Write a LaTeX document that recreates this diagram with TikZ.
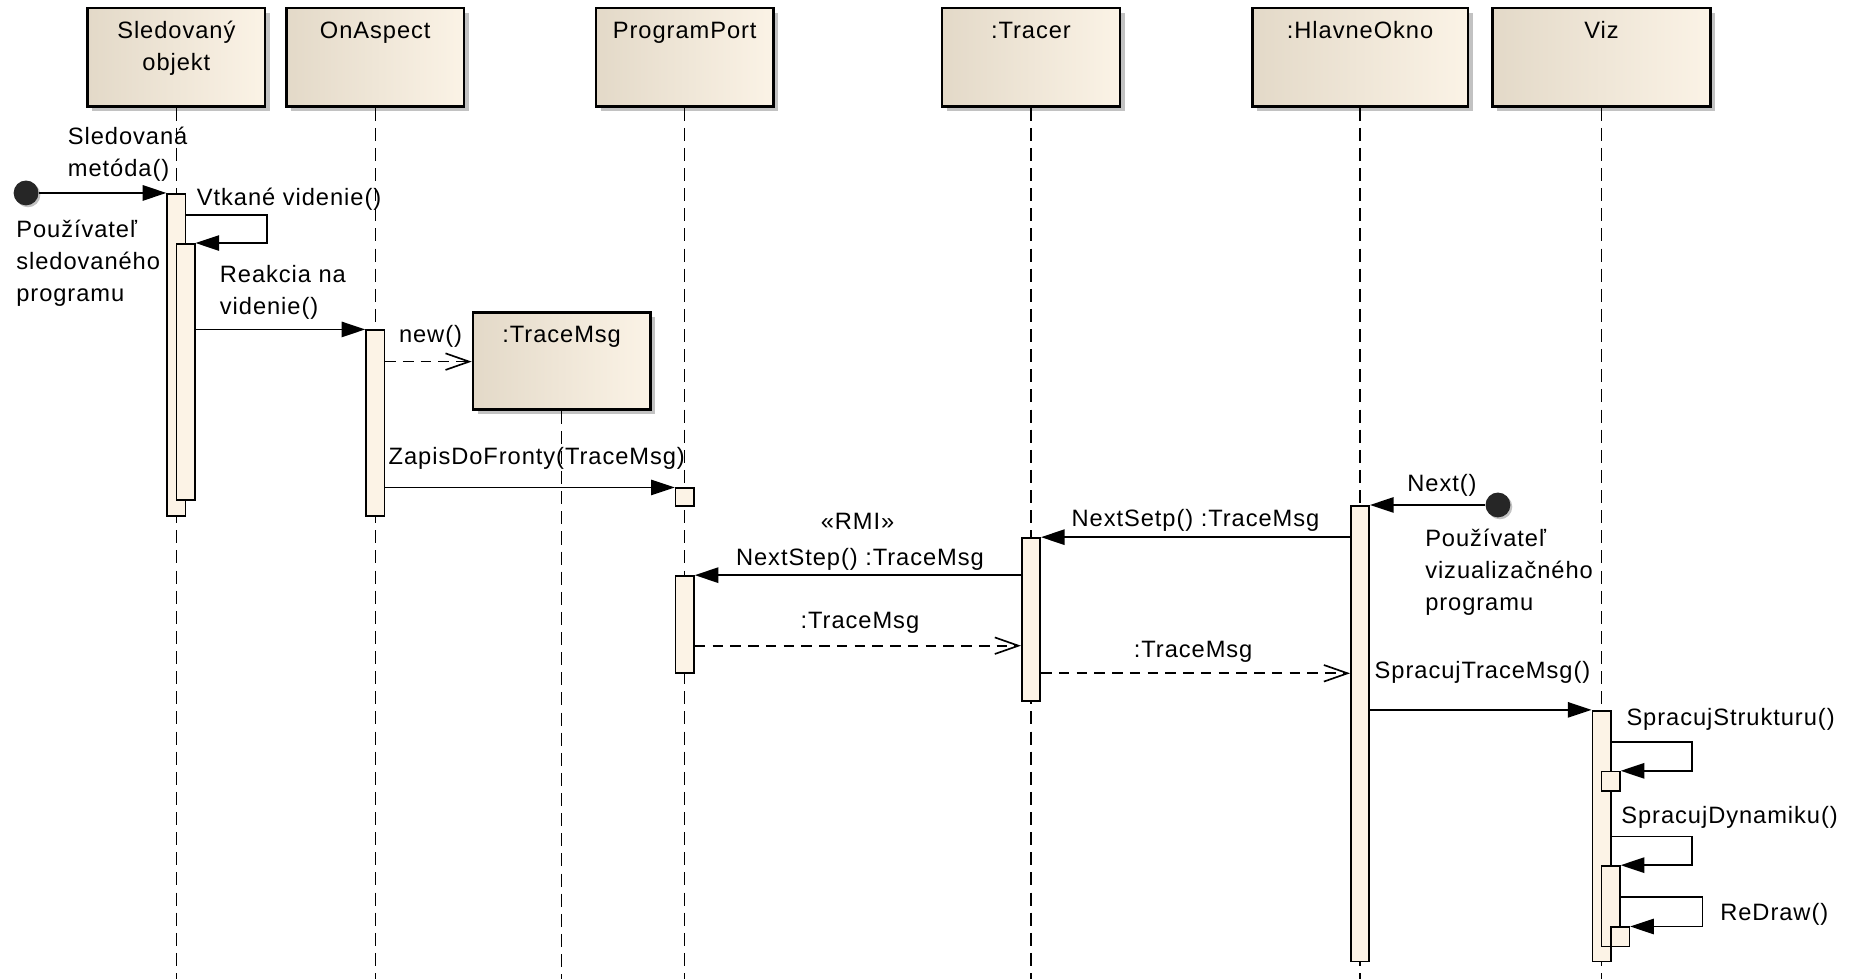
\documentclass[tikz,border=0pt]{standalone}
\usepackage{fontspec}
\setmainfont[LetterSpace=4]{Liberation Sans}
\usetikzlibrary{arrows.meta,fit,shadows}

\definecolor{headL}{HTML}{E3D9C8}
\definecolor{headR}{HTML}{FBF3E6}
\definecolor{actfill}{HTML}{FCF3E6}
\definecolor{shadowgray}{HTML}{C2C2C2}
\definecolor{dotfill}{HTML}{262626}

\tikzset{
  lbl/.style={inner sep=0pt, font=\fontsize{10pt}{13.4pt}\selectfont, align=left},
  head/.style={draw=black, line width=1pt, left color=headL, right color=headR, inner sep=0pt,
    drop shadow={shadow xshift=2pt, shadow yshift=-2pt, fill=shadowgray, opacity=1}},
  act/.style={draw=black, line width=0.7pt, fill=actfill, inner sep=0pt},
  life/.style={line width=0.6pt, dash pattern=on 5.5pt off 3pt},
  msg/.style={line width=0.7pt, -{Triangle[length=10pt,width=6.5pt]}},
  ret/.style={line width=0.7pt, dash pattern=on 4.5pt off 3pt, -{Straight Barb[length=10pt,width=7pt]}},
  startdot/.style={circle, fill=dotfill, minimum size=10.5pt, inner sep=0pt,
    drop shadow={shadow xshift=0.8pt, shadow yshift=-0.8pt, fill=shadowgray, opacity=1}},
}

\begin{document}
\begin{tikzpicture}[x=0.5pt,y=-0.5pt]
\useasboundingbox (0,0) rectangle (1568,827);

% lifeline heads
\node[head, fit={(74,7) (224,90)}] (sled) {};
\node[head, fit={(242,7) (392,90)}] (asp) {};
\node[head, fit={(503.5,7) (653.5,90)}] (port) {};
\node[head, fit={(796,7) (946,90)}] (tracer) {};
\node[head, fit={(1058,7) (1240,90)}] (okno) {};
\node[head, fit={(1261,7) (1445,90)}] (viz) {};
\node[head, fit={(399.5,264) (549.5,346)}] (tm) {};

% head titles (multi-line nodes are anchored at their last baseline)
\node[lbl, align=center, anchor=base] (sledT) at (149,59.5) {Sledovaný\\objekt};
\node[lbl, anchor=base] (aspT) at (317,32.5) {OnAspect};
\node[lbl, anchor=base] (portT) at (578.5,32.5) {ProgramPort};
\node[lbl, anchor=base] (tracerT) at (871,32.5) {:Tracer};
\node[lbl, anchor=base] (oknoT) at (1149,32.5) {:HlavneOkno};
\node[lbl, anchor=base] (vizT) at (1353,32.5) {Viz};
\node[lbl, anchor=base] (tmT) at (474.5,289) {:TraceMsg};

% lifelines
\foreach \h in {sled,asp,port,tracer,okno,viz,tm}
  \draw[life] (\h.south) -- (\h.south |- 0,827);

% activations
\node[act, fit={(141.25,164) (156.75,436)}] (a1) {};
\node[act, fit={(149,206) (164.5,422.5)}] (a2) {};
\node[act, fit={(309.25,279) (324.75,436)}] (a3) {};
\node[act, fit={(570.75,412.5) (586.25,427.5)}] (a4) {};
\node[act, fit={(570.75,486.6) (586.25,568.6)}] (a5) {};
\node[act, fit={(863.25,454.5) (878.75,592)}] (a6) {};
\node[act, fit={(1141.25,427.5) (1156.75,812.4)}] (a7) {};
\node[act, fit={(1345.25,600.4) (1360.75,812.4)}] (a8) {};
\node[act, fit={(1353,651.9) (1368.5,668)}] (a9) {};
\node[act, fit={(1353,731.6) (1368.5,799.7)}] (a10) {};
\node[act, fit={(1361,783.4) (1376.5,799.7)}] (a11) {};

% actors
\node[startdot] (u1) at (22,163) {};
\node[startdot] (u2) at (1265.5,426.6) {};

% messages
\draw[msg] (u1) -- (u1 -| a1.west);
\draw[msg] (a1.east |- 0,181.5) -- (225.5,181.5) |- (a2.north east);
\draw[msg] (a2.east |- a3.north) -- (a3.north west);
\draw[ret] (a3.east |- 0,305.5) -- (tm.west |- 0,305.5);
\draw[msg] (a3.east |- a4.north) -- (a4.north west);
\draw[msg] (a7.west |- a6.north) -- (a6.north east);
\draw[msg] (a6.west |- a5.north) -- (a5.north east);
\draw[ret] (a5.east |- 0,545.5) -- (a6.west |- 0,545.5);
\draw[ret] (a6.east |- 0,568.8) -- (a7.west |- 0,568.8);
\draw[msg] (u2) -- (u2 -| a7.east);
\draw[msg] (a7.east |- a8.north) -- (a8.north west);
\draw[msg] (a8.east |- 0,626.6) -- (1429.2,626.6) |- (a9.north east);
\draw[msg] (a8.east |- 0,706.8) -- (1429.2,706.8) |- (a10.north east);
\draw[msg] (a10.east |- 0,758) -- (1438.3,758) |- (a11.north east);

% message labels
\node[lbl, anchor=base west] (l1) at (57,149) {Sledovaná\\metóda()};
\node[lbl, anchor=base west] (l2) at (166,173.5) {Vtkané videnie()};
\node[lbl, anchor=base west] (l3) at (13.4,254.5) {Používateľ\\sledovaného\\programu};
\node[lbl, anchor=base west] (l4) at (185.4,265.8) {Reakcia na\\videnie()};
\node[lbl, anchor=base west] (l5) at (336.7,289) {new()};
\node[lbl, anchor=base west] (l6) at (328,392) {ZapisDoFronty(TraceMsg)};
\node[lbl, anchor=base] (l7) at (724.5,447.5) {«RMI»};
\node[lbl, anchor=base] (l8) at (726.5,477.5) {NextStep() :TraceMsg};
\node[lbl, anchor=base] (l9) at (726.5,531.3) {:TraceMsg};
\node[lbl, anchor=base] (l10) at (1010,445) {NextSetp() :TraceMsg};
\node[lbl, anchor=base] (l11) at (1008,555.5) {:TraceMsg};
\node[lbl, anchor=base west] (l12) at (1188.6,415.5) {Next()};
\node[lbl, anchor=base west] (l13) at (1203.7,515.5) {Používateľ\\vizualizačného\\programu};
\node[lbl, anchor=base west] (l14) at (1161,573.5) {SpracujTraceMsg()};
\node[lbl, anchor=base west] (l15) at (1373.7,613) {SpracujStrukturu()};
\node[lbl, anchor=base west] (l16) at (1369.4,696) {SpracujDynamiku()};
\node[lbl, anchor=base west] (l17) at (1453,777.5) {ReDraw()};
\end{tikzpicture}
\end{document}
